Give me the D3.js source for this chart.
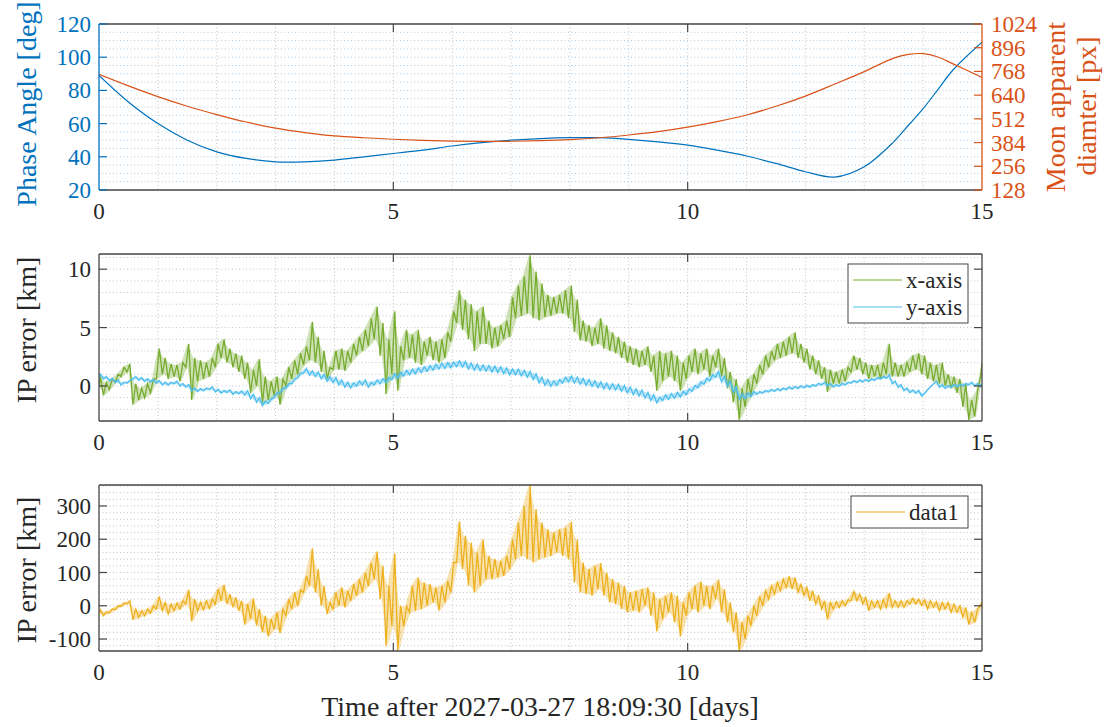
<!DOCTYPE html>
<html>
<head>
<meta charset="utf-8">
<script src="https://cdn.jsdelivr.net/npm/d3@7"></script>
<style>
  body { margin: 0; background: #fff; }
</style>
</head>
<body>
<svg id="chart" width="1110" height="727" font-family="'Liberation Serif', 'DejaVu Serif', serif"></svg>
<script>
// ---- top panel: phase angle + moon size
const phaseDays = [0,0.5,1,1.5,2,2.5,3,3.5,4,4.5,5,5.5,6,6.5,7,7.5,8,8.5,9,9.5,10,10.5,11,11.5,12,12.5,13,13.5,13.75,14,14.25,14.5,15];
const phaseAngle = [89,73,60,50,43,39,37,37,38,40,42,44,46.5,48.5,50,51,51.5,51.5,50.5,49,47,44,40.5,36,31,27.8,34,49,59,69,80.5,92,109];
const moonDiam = [752,690,632,580,535,495,462,438,420,410,402,396,392,390,391,394,400,410,425,443,467,497,533,580,635,700,767,840,860,864,846,810,736];

// ---- IP error samples: low / high of the noisy trace in each 0.1 day bin (t = 0 .. 15)
const binStep = 0.1;
const xAxisLo = [
  0.0,-0.8,-0.3,0.3,0.8,1.2,-1.6,-1.2,-1.0,-0.6,
  0.6,1.0,0.6,0.8,0.4,1.6,-1.2,0.4,0.6,0.8,
  1.6,2.4,2.0,1.6,1.2,0.6,-0.6,0.0,-1.5,-1.2,
  -0.8,-1.6,0.0,0.6,1.0,1.8,2.2,2.0,1.2,0.6,
  1.4,1.4,1.3,2.0,2.6,3.0,3.4,4.0,2.6,-0.7,
  1.0,-0.4,2.2,2.4,2.0,1.8,2.6,2.2,2.0,2.4,
  3.8,5.4,4.8,4.0,3.0,3.6,3.6,3.2,3.4,4.0,
  4.2,5.8,6.0,6.2,5.8,5.6,5.9,6.0,6.2,6.2,
  5.8,4.6,3.9,3.8,3.4,3.6,3.2,3.0,2.8,2.4,
  2.0,1.8,1.6,1.8,1.2,-0.4,0.4,0.8,0.4,-0.4,
  0.6,1.2,1.0,1.4,0.8,1.6,0.8,-0.2,-1.4,-2.9,
  -1.8,-0.8,0.2,1.0,1.6,2.2,2.4,2.6,2.8,2.4,
  2.0,1.4,1.0,0.6,-0.5,0.2,0.2,0.4,1.2,1.4,
  1.0,0.6,0.8,0.6,1.0,0.8,0.8,0.8,1.2,1.4,
  1.0,0.6,0.4,0.2,0.0,-0.2,-0.6,-1.8,-2.9,-2.6,
  0.8
];
const xAxisHi = [
  0.8,0.3,0.6,1.0,1.6,1.9,0.2,-0.2,0.2,0.6,
  3.2,2.4,1.9,1.8,2.0,3.6,2.4,2.2,2.0,2.4,
  3.6,4.0,3.2,2.8,2.6,2.0,1.4,2.3,0.8,0.4,
  0.8,0.6,1.6,2.2,2.8,3.4,5.5,4.2,3.0,1.6,
  3.0,3.2,3.0,3.6,4.2,4.8,5.8,6.8,5.4,4.0,
  6.4,3.4,4.8,4.4,4.8,3.8,4.2,3.8,4.0,4.6,
  6.4,8.2,7.4,7.0,6.4,6.8,5.6,5.0,5.2,5.6,
  7.6,8.6,9.4,11.2,9.8,8.8,7.8,7.6,7.8,8.2,
  8.6,7.4,5.6,5.2,5.0,5.8,5.2,4.6,4.2,3.8,
  3.4,3.2,3.0,3.4,2.6,3.0,2.8,3.0,2.6,2.0,
  2.6,3.2,2.8,3.2,2.6,3.2,2.4,1.2,0.6,-0.2,
  0.6,1.0,1.8,2.6,3.0,3.6,3.8,4.2,4.6,3.6,
  3.2,2.6,2.2,1.6,1.4,1.2,1.4,1.6,2.6,2.4,
  2.0,1.8,1.8,2.0,3.6,2.0,1.8,2.0,2.6,2.8,
  2.6,2.0,1.8,2.0,1.0,0.8,0.6,0.2,-1.2,-0.4,
  2.0
];
const yAxisLo = [
  0.78,0.58,0.43,0.28,0.08,0.23,0.58,0.48,0.38,0.33,
  0.23,0.08,0.08,0.18,-0.02,-0.12,-0.42,-0.47,-0.42,-0.32,
  -0.52,-0.62,-0.57,-0.72,-0.67,-0.8,-1.1,-1.4,-1.7,-1.5,
  -1.0,-0.6,-0.2,0.2,0.7,1.1,0.9,0.8,0.6,0.4,
  0.28,0.08,-0.12,-0.17,-0.02,0.08,-0.12,0.08,0.18,0.28,
  0.55,0.65,0.85,0.95,1.05,1.15,1.25,1.35,1.45,1.5,
  1.55,1.65,1.6,1.45,1.35,1.3,1.25,1.2,1.15,1.05,
  0.95,0.95,0.85,0.75,0.55,0.25,0.05,-0.05,0.05,0.25,
  0.35,0.25,0.15,0.05,-0.05,-0.15,-0.25,-0.3,-0.35,-0.45,
  -0.6,-0.75,-0.85,-1.05,-1.25,-1.45,-1.25,-1.15,-1.05,-0.95,
  -0.75,-0.45,-0.15,0.15,0.45,0.75,0.35,-0.05,-0.55,-1.15,
  -1.1,-0.92,-0.72,-0.62,-0.52,-0.47,-0.42,-0.32,-0.27,-0.22,
  -0.17,-0.12,-0.02,0.08,-0.02,-0.12,-0.02,0.08,0.23,0.28,
  0.33,0.38,0.48,0.58,0.65,0.18,-0.12,-0.42,-0.57,-0.62,
  -0.87,-0.32,0.18,-0.12,-0.22,-0.12,-0.07,-0.02,0.08,-0.02,
  -0.07
];
const yAxisHi = [
  1.02,0.82,0.67,0.52,0.32,0.47,0.82,0.72,0.62,0.57,
  0.47,0.32,0.32,0.42,0.22,0.12,-0.18,-0.23,-0.18,-0.08,
  -0.28,-0.38,-0.33,-0.48,-0.43,-0.4,-0.7,-1.0,-1.3,-1.1,
  -0.6,-0.2,0.2,0.6,1.1,1.5,1.3,1.2,1.0,0.8,
  0.72,0.52,0.32,0.27,0.42,0.52,0.32,0.52,0.62,0.72,
  1.05,1.15,1.35,1.45,1.55,1.65,1.75,1.85,1.95,2.0,
  2.05,2.15,2.1,1.95,1.85,1.8,1.75,1.7,1.65,1.55,
  1.45,1.45,1.35,1.25,1.05,0.75,0.55,0.45,0.55,0.75,
  0.85,0.75,0.65,0.55,0.45,0.35,0.25,0.2,0.15,0.05,
  -0.1,-0.25,-0.35,-0.55,-0.75,-0.95,-0.75,-0.65,-0.55,-0.45,
  -0.25,0.05,0.35,0.65,0.95,1.25,0.85,0.45,-0.05,-0.65,
  -0.6,-0.48,-0.48,-0.38,-0.28,-0.23,-0.18,-0.08,-0.03,0.02,
  0.07,0.12,0.22,0.32,0.22,0.12,0.22,0.32,0.47,0.52,
  0.57,0.62,0.72,0.82,0.95,0.42,0.12,-0.18,-0.33,-0.38,
  -0.63,-0.08,0.42,0.12,0.02,0.12,0.17,0.22,0.32,0.22,
  0.17
];
const data1Lo = [
  -25,-30,-22,-12,-2,5,-42,-35,-30,-22,
  -10,-15,-25,-15,-10,5,-47,-15,-12,-8,
  5,15,5,-5,-15,-57,-40,-60,-80,-92,
  -70,-82,-30,-10,0,40,60,40,0,-25,
  -10,0,-5,15,30,40,60,80,20,-122,
  -60,-135,-62,-20,-15,-10,0,10,-15,10,
  40,130,110,60,40,60,80,80,85,90,
  110,140,150,140,130,140,145,150,160,150,
  140,70,40,35,30,50,30,10,5,-10,
  -20,-15,-20,0,-30,-77,-40,-20,-50,-92,
  -30,-10,-20,0,-10,20,-20,-50,-80,-137,
  -100,-60,-30,0,20,35,45,55,50,40,
  30,15,5,-10,-42,-10,-5,0,15,15,
  5,-15,-5,-10,-5,-5,-5,-5,5,5,
  0,-10,-5,-15,-10,-20,-20,-35,-57,-50,
  0
];
const data1Hi = [
  -12,-18,-10,0,8,15,-10,-15,-10,0,
  28,10,5,8,15,48,20,10,15,20,
  50,63,35,25,15,5,22,-10,-30,-40,
  -20,-10,20,40,48,90,173,110,60,10,
  40,55,45,65,80,100,130,163,120,60,
  158,0,-2,60,85,70,65,55,60,75,
  130,253,210,190,160,200,150,140,135,150,
  200,250,300,363,290,250,230,220,230,235,
  253,200,130,110,120,128,100,80,70,60,
  40,45,50,55,40,20,30,40,30,10,
  40,60,73,60,60,78,50,10,-20,-50,
  -30,0,28,45,60,70,80,88,85,65,
  55,45,30,15,10,12,15,18,43,35,
  25,15,15,18,38,15,15,15,23,20,
  18,15,12,10,10,5,0,-5,-20,-10,
  13
];

// ---- tick labels
const xTicks = [0, 5, 10, 15];
const phaseTicks = [20, 40, 60, 80, 100, 120];
const moonTicks = [128, 256, 384, 512, 640, 768, 896, 1024];
const errTicks = [0, 5, 10];
const data1Ticks = [-100, 0, 100, 200, 300];

const C = {
  blue: '#0072BD', orange: '#D95319', green: '#77AC30',
  sky: '#4DBEEE', yellow: '#EDB120', axis: '#444444', text: '#262626'
};
const FONT = "'Liberation Serif', 'DejaVu Serif', serif";

const svg = d3.select('#chart');
svg.append('rect').attr('width', 1110).attr('height', 727).attr('fill', '#fff');

const x = d3.scaleLinear().domain([0, 15]).range([99, 982]);
const tickLen = 8;

function clip(id, y0, y1) {
  svg.append('clipPath').attr('id', id)
    .append('rect').attr('x', x(0)).attr('y', y0).attr('width', x(15) - x(0)).attr('height', y1 - y0);
}

function grid(g, y, yVals, hColor) {
  const [y1, y0] = y.range();
  g.append('g').selectAll('line').data(d3.range(1, 15)).join('line')
    .attr('x1', d => x(d)).attr('x2', d => x(d)).attr('y1', y0).attr('y2', y1)
    .attr('stroke', '#c4c4c4').attr('stroke-width', 1).attr('stroke-dasharray', '1,2.5');
  g.append('g').selectAll('line').data(yVals).join('line')
    .attr('x1', x(0)).attr('x2', x(15)).attr('y1', d => y(d)).attr('y2', d => y(d))
    .attr('stroke', hColor).attr('stroke-width', 1).attr('stroke-dasharray', '1,2.5');
}

function xTickMarks(g, y) {
  const [yb, yt] = y.range();
  const inner = xTicks.slice(1, -1);
  g.append('g').selectAll('line').data(inner).join('line')
    .attr('x1', d => x(d)).attr('x2', d => x(d)).attr('y1', yb).attr('y2', yb - tickLen)
    .attr('stroke', C.axis).attr('stroke-width', 1.2);
  g.append('g').selectAll('line').data(inner).join('line')
    .attr('x1', d => x(d)).attr('x2', d => x(d)).attr('y1', yt).attr('y2', yt + tickLen)
    .attr('stroke', C.axis).attr('stroke-width', 1.2);
  g.append('g').selectAll('text').data(xTicks).join('text')
    .attr('x', d => x(d)).attr('y', yb + 21).attr('dy', '0.35em')
    .attr('text-anchor', 'middle').attr('font-family', FONT).attr('font-size', 23).attr('fill', C.text)
    .text(d => d);
}

function yTicksLeft(g, y, vals, color, both) {
  g.append('g').selectAll('line').data(vals).join('line')
    .attr('x1', x(0)).attr('x2', x(0) + tickLen).attr('y1', d => y(d)).attr('y2', d => y(d))
    .attr('stroke', color).attr('stroke-width', 1.2);
  if (both) {
    g.append('g').selectAll('line').data(vals).join('line')
      .attr('x1', x(15)).attr('x2', x(15) - tickLen).attr('y1', d => y(d)).attr('y2', d => y(d))
      .attr('stroke', color).attr('stroke-width', 1.2);
  }
  g.append('g').selectAll('text').data(vals).join('text')
    .attr('x', x(0) - 8).attr('y', d => y(d)).attr('dy', '0.35em')
    .attr('text-anchor', 'end').attr('font-family', FONT).attr('font-size', 23)
    .attr('fill', color === C.axis ? C.text : color)
    .text(d => d);
}

function frame(g, y, leftColor, rightColor) {
  const [yb, yt] = y.range();
  g.append('line').attr('x1', x(0)).attr('x2', x(15)).attr('y1', yt).attr('y2', yt).attr('stroke', C.axis).attr('stroke-width', 1.3);
  g.append('line').attr('x1', x(0)).attr('x2', x(15)).attr('y1', yb).attr('y2', yb).attr('stroke', C.axis).attr('stroke-width', 1.3);
  g.append('line').attr('x1', x(0)).attr('x2', x(0)).attr('y1', yt).attr('y2', yb).attr('stroke', leftColor).attr('stroke-width', 1.3);
  g.append('line').attr('x1', x(15)).attr('x2', x(15)).attr('y1', yt).attr('y2', yb).attr('stroke', rightColor).attr('stroke-width', 1.3);
}

// noisy trace: light low/high envelope plus a zig-zag between them
function noisyTrace(g, lo, hi, y, color, clipId) {
  const rows = lo.map((v, i) => ({ t: i * binStep, lo: v, hi: hi[i] }));
  g.append('path').datum(rows)
    .attr('d', d3.area().x(d => x(d.t)).y0(d => y(d.lo)).y1(d => y(d.hi)))
    .attr('fill', color).attr('fill-opacity', 0.35).attr('clip-path', `url(#${clipId})`);
  const pts = [];
  rows.forEach(d => {
    pts.push([Math.max(0, d.t - binStep / 4), d.lo]);
    pts.push([Math.min(15, d.t + binStep / 4), d.hi]);
  });
  g.append('path').datum(pts)
    .attr('d', d3.line().x(d => x(d[0])).y(d => y(d[1])))
    .attr('fill', 'none').attr('stroke', color).attr('stroke-width', 1.3)
    .attr('clip-path', `url(#${clipId})`);
}

function yLabel(text, cx, cy, color) {
  svg.append('text').attr('transform', `translate(${cx},${cy}) rotate(-90)`)
    .attr('text-anchor', 'middle').attr('dominant-baseline', 'central')
    .attr('font-family', FONT).attr('font-size', 28).attr('fill', color).text(text);
}

function legend(g, items, bx, by, bw, bh) {
  g.append('rect').attr('x', bx).attr('y', by).attr('width', bw).attr('height', bh)
    .attr('fill', '#fff').attr('stroke', C.axis).attr('stroke-width', 1);
  items.forEach((it, i) => {
    const yy = by + 16 + i * 27;
    g.append('line').attr('x1', bx + 5).attr('x2', bx + 54).attr('y1', yy).attr('y2', yy)
      .attr('stroke', it.color).attr('stroke-width', 1);
    g.append('text').attr('x', bx + 58).attr('y', yy).attr('dy', '0.35em')
      .attr('font-family', FONT).attr('font-size', 23).attr('fill', C.text).text(it.name);
  });
}

// ================= top panel =================
const yPhase = d3.scaleLinear().domain([20, 120]).range([190, 24]);
const yMoon = d3.scaleLinear().domain([128, 1024]).range([190, 24]);
const gTop = svg.append('g');
clip('clipTop', 24, 190);
grid(gTop, yPhase, d3.range(25, 120, 5), '#a9c9e3');

const curve = d3.curveCatmullRom.alpha(0.5);
gTop.append('path').datum(phaseDays.map((d, i) => [d, phaseAngle[i]]))
  .attr('d', d3.line().x(d => x(d[0])).y(d => yPhase(d[1])).curve(curve))
  .attr('fill', 'none').attr('stroke', C.blue).attr('stroke-width', 1.2).attr('clip-path', 'url(#clipTop)');
gTop.append('path').datum(phaseDays.map((d, i) => [d, moonDiam[i]]))
  .attr('d', d3.line().x(d => x(d[0])).y(d => yMoon(d[1])).curve(curve))
  .attr('fill', 'none').attr('stroke', C.orange).attr('stroke-width', 1.2).attr('clip-path', 'url(#clipTop)');

frame(gTop, yPhase, C.blue, C.orange);
xTickMarks(gTop, yPhase);
yTicksLeft(gTop, yPhase, phaseTicks, C.blue, false);
gTop.append('g').selectAll('line').data(moonTicks).join('line')
  .attr('x1', x(15)).attr('x2', x(15) - tickLen).attr('y1', d => yMoon(d)).attr('y2', d => yMoon(d))
  .attr('stroke', C.orange).attr('stroke-width', 1.2);
gTop.append('g').selectAll('text').data(moonTicks).join('text')
  .attr('x', x(15) + 9).attr('y', d => yMoon(d)).attr('dy', '0.35em')
  .attr('font-family', FONT).attr('font-size', 23).attr('fill', C.orange).text(d => d);
yLabel('Phase Angle [deg]', 26, 104, C.blue);
yLabel('Moon apparent', 1055, 107, C.orange);
yLabel('diamter [px]', 1086, 106, C.orange);

// ================= middle panel =================
const yErr = d3.scaleLinear().domain([-3.0, 11.3]).range([421, 254]);
const gMid = svg.append('g');
clip('clipMid', 254, 421);
grid(gMid, yErr, d3.range(-2, 12, 1), '#c4c4c4');
noisyTrace(gMid, xAxisLo, xAxisHi, yErr, C.green, 'clipMid');
noisyTrace(gMid, yAxisLo, yAxisHi, yErr, C.sky, 'clipMid');
frame(gMid, yErr, C.axis, C.axis);
xTickMarks(gMid, yErr);
yTicksLeft(gMid, yErr, errTicks, C.axis, true);
legend(gMid, [{ name: 'x-axis', color: C.green }, { name: 'y-axis', color: C.sky }], 848, 264, 120, 59);
yLabel('IP error [km]', 26, 330, C.text);

// ================= bottom panel =================
const yD1 = d3.scaleLinear().domain([-136, 363]).range([651, 485]);
const gBot = svg.append('g');
clip('clipBot', 485, 651);
grid(gBot, yD1, d3.range(-120, 361, 20), '#c4c4c4');
noisyTrace(gBot, data1Lo, data1Hi, yD1, C.yellow, 'clipBot');
frame(gBot, yD1, C.axis, C.axis);
xTickMarks(gBot, yD1);
yTicksLeft(gBot, yD1, data1Ticks, C.axis, true);
legend(gBot, [{ name: 'data1', color: C.yellow }], 851, 496, 117, 32);
yLabel('IP error [km]', 26, 570, C.text);

svg.append('text').attr('x', 540).attr('y', 706).attr('dy', '0.35em')
  .attr('text-anchor', 'middle').attr('font-family', FONT).attr('font-size', 28).attr('fill', C.text)
  .text('Time after 2027-03-27 18:09:30 [days]');
</script>
</body>
</html>
